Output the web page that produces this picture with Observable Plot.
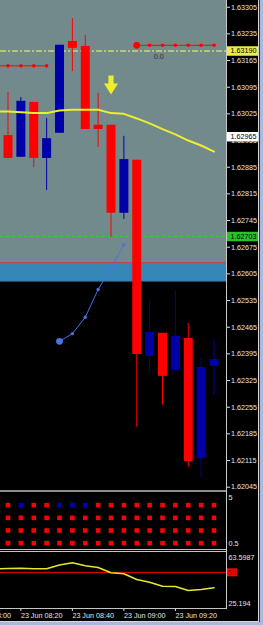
<!DOCTYPE html>
<html>
<head>
<meta charset="utf-8">
<script src="https://cdn.jsdelivr.net/npm/d3@7"></script>
<script src="https://cdn.jsdelivr.net/npm/@observablehq/plot@0.6"></script>
<style>
html,body{margin:0;padding:0;background:#aab8de;}
#wrap{position:relative;width:263px;height:625px;overflow:hidden;background:#aab8de;}
#chart{position:absolute;left:0;top:0;width:258px;height:621px;background:#000;overflow:hidden;}
.ln{position:absolute;}
</style>
</head>
<body>
<div id="wrap">
  <div id="chart"></div>
  <div class="ln" style="left:258px;top:0;width:1px;height:622px;background:#d8d8d8"></div>
  <div class="ln" style="left:259px;top:0;width:1px;height:622px;background:#2c3448"></div>
  <div class="ln" style="left:0;top:621px;width:259px;height:1px;background:#d8d8d8"></div>
</div>
<script>
// ---------- data ----------
const candleIdx = [1,2,3,4,5,6,7,8,9,10,11,12,13,14,15,16,17]; // 5-min bars, 1 = 08:15
const open  = [1.62968,1.62911,1.63055,1.62908,1.62974,1.63215,1.63202,1.62995,1.62995,1.62764,1.62903,1.62388,1.62449,1.62351,1.62435,1.62120,1.62362];
const high  = [1.63081,1.63068,1.63055,1.63013,1.63205,1.63275,1.63231,1.63079,1.62995,1.62966,1.62903,1.62538,1.62449,1.62559,1.62475,1.62383,1.62430];
const low   = [1.62908,1.62911,1.62884,1.62824,1.62974,1.63136,1.62984,1.62937,1.62701,1.62748,1.62202,1.62346,1.62260,1.62351,1.62097,1.62070,1.62286];
const close = [1.62908,1.63058,1.62908,1.62960,1.63205,1.63197,1.62984,1.62984,1.62764,1.62905,1.62393,1.62451,1.62336,1.62441,1.62112,1.62359,1.62380];

const lineIdx = [0,1,2,3,4,5,6,7,8,9,10,11,12,13,14,15,16,17];
const maValues = [1.63031,1.63031,1.63029,1.63027,1.63027,1.63034,1.63036,1.63036,1.63036,1.63027,1.63025,1.63013,1.63000,1.62985,1.62971,1.62955,1.62942,1.62926];

const sigLeftIdx = [0,1,2,3,4];
const sigLeftPrice = 1.63151;
const sigRightIdx = [11,12,13,14,15,16,17];
const sigRightPrice = 1.63205;

const curveIdx = [5,6,7,8,9,10];
const curvePrice = [1.62428,1.62448,1.62491,1.62564,1.62620,1.62681];

const arrowIdx = 9, arrowPrice = 1.63101;
const noteIdx = 12.7, notePrice = 1.63176, noteText = "0.0";

const zoneTop = 1.633226, zoneRed = 1.62634, zoneBlueLow = 1.62585;
const levelYellow = 1.63190, levelGreen = 1.62703, levelWhite = 1.62965;

const priceTicks = [1.63305,1.63235,1.63165,1.63095,1.63025,1.62955,1.62885,1.62815,1.62745,1.62675,1.62605,1.62535,1.62465,1.62395,1.62325,1.62255,1.62185,1.62115,1.62045];
const priceDomain = [1.620363, 1.633226];
const xDomain = [0.417, 17.97];

const sqRows = [4,3,2,1];
const topRowColors = ["r","b","r","r","b","b","b","r","r","r","r","r","r","r","r","r","r"];

const rsiValues = [52.42,52.63,52.83,52.42,52.42,55.03,56.54,54.48,53.31,49.68,48.99,45.08,43.23,40.49,40.28,37.54,38.23,39.39];
const rsiMax = 63.5987, rsiMin = 25.194, rsiLevel = 50;
const sqMax = 5, sqMin = 0.5;

const xTickIdx = [-2,2,6,10,14];
const xTickLabels = ["23 Jun 08:00","23 Jun 08:20","23 Jun 08:40","23 Jun 09:00","23 Jun 09:20"];

// ---------- styles ----------
const RED = "#ff0000", BLUE = "#0000a8";
const css = "background:transparent;color:#e6e6e6;font-family:'Liberation Sans',Arial,sans-serif;font-size:7.2px;";
const W = 258, MR = 32;

const candles = candleIdx.map((i,k)=>({i, o:open[k], h:high[k], l:low[k], c:close[k]}));
const ups = candles.filter(d=>d.c>d.o), downs = candles.filter(d=>d.c<=d.o);
const ma = lineIdx.map((i,k)=>({i, v:maValues[k]}));
const sigL = sigLeftIdx.map(i=>({i, v:sigLeftPrice}));
const sigR = sigRightIdx.map(i=>({i, v:sigRightPrice}));
const curve = curveIdx.map((i,k)=>({i, v:curvePrice[k]}));
const rsi = lineIdx.map((i,k)=>({i, v:rsiValues[k]}));

function boxSymbol(w,h){ return {draw(ctx){ ctx.rect(-w/2,-h/2,w,h); }}; }
const arrowSymbol = {draw(ctx){
  ctx.moveTo(-2.6,-9.5); ctx.lineTo(2.6,-9.5); ctx.lineTo(2.6,-1.5); ctx.lineTo(7,-1.5);
  ctx.lineTo(0,9.5); ctx.lineTo(-7,-1.5); ctx.lineTo(-2.6,-1.5); ctx.closePath();
}};

const priceLabels = [
  {p: levelYellow, bg:"#ecec48", fg:"#000"},
  {p: levelWhite,  bg:"#ffffff", fg:"#000"},
  {p: levelGreen,  bg:"#27c427", fg:"#000"}
];

// ---------- price panel ----------
const price = Plot.plot({
  width: W, height: 490, marginLeft: 0, marginRight: MR, marginTop: 0, marginBottom: 0,
  style: css,
  x: {domain: xDomain, axis: null},
  y: {domain: priceDomain},
  marks: [
    Plot.rect([{a: zoneRed, b: zoneTop}], {y1:"a", y2:"b", fill:"#728a8c"}),
    Plot.rect([{a: zoneBlueLow, b: zoneRed}], {y1:"a", y2:"b", fill:"#3587b8"}),
    Plot.ruleY([zoneBlueLow], {stroke:"#1c4a66"}),
    Plot.ruleY([zoneRed], {stroke:"#ff3a2a"}),
    Plot.ruleY([levelYellow], {stroke:"#d4d46a", strokeWidth:1.5, strokeDasharray:"6,2,2,2"}),
    Plot.ruleY([levelGreen], {stroke:"#38c838", strokeDasharray:"3,3"}),
    Plot.ruleX(ups, {x:"i", y1:"l", y2:"h", stroke:BLUE}),
    Plot.ruleX(downs, {x:"i", y1:"l", y2:"h", stroke:RED}),
    Plot.ruleX(ups, {x:"i", y1:"o", y2:"c", stroke:BLUE, strokeWidth:9}),
    Plot.ruleX(downs, {x:"i", y1:"o", y2:"c", stroke:RED, strokeWidth:9}),
    Plot.line(ma, {x:"i", y:"v", stroke:"#eeee30", strokeWidth:2, clip:true}),
    Plot.line(sigL, {x:"i", y:"v", stroke:RED, strokeWidth:1, clip:true}),
    Plot.dot(sigL, {x:"i", y:"v", fill:RED, r:1.8, clip:true}),
    Plot.line(sigR, {x:"i", y:"v", stroke:RED, strokeWidth:1}),
    Plot.dot(sigR, {x:"i", y:"v", fill:RED, r:1.8}),
    Plot.dot([sigR[0]], {x:"i", y:"v", fill:RED, r:3.4}),
    Plot.text([noteText], {x: noteIdx, y: notePrice, text: d=>d, fill:"#2a3238", fontSize:7.2}),
    Plot.line(curve, {x:"i", y:"v", stroke:"#4a72e0", strokeWidth:1}),
    Plot.dot(curve, {x:"i", y:"v", fill:"#4a72e0", r:1.7}),
    Plot.dot([curve[0]], {x:"i", y:"v", fill:"#4a72e0", r:3.4}),
    Plot.dot([{i:arrowIdx, v:arrowPrice}], {x:"i", y:"v", symbol: arrowSymbol, fill:"#eeee2c", r:5}),
    Plot.axisY(priceTicks, {anchor:"right", tickSize:3, tickPadding:1.5, tickFormat: d=>d.toFixed(5), label:null}),
    Plot.dot(priceLabels, {y:"p", frameAnchor:"right", dx:16, symbol: boxSymbol(31,9.5), fill: d=>d.bg, r:5}),
    Plot.text(priceLabels, {y:"p", frameAnchor:"right", dx:4, textAnchor:"start", text: d=>d.p.toFixed(5), fill:"#000"})
  ]
});

// ---------- squares panel ----------
const squares = [];
sqRows.forEach(row => candleIdx.forEach((i,k) => {
  squares.push({i, row, c: row === 4 ? topRowColors[k] : "r"});
}));
const sqPanel = Plot.plot({
  width: W, height: 57, marginLeft: 0, marginRight: MR, marginTop: 0, marginBottom: 0,
  style: css,
  x: {domain: xDomain, axis: null},
  y: {domain: [sqMin, sqMax]},
  marks: [
    Plot.dot(squares.filter(d=>d.c==="r"), {x:"i", y:"row", symbol:"square", r:2.6, fill:"#ff0000"}),
    Plot.dot(squares.filter(d=>d.c==="b"), {x:"i", y:"row", symbol:"square", r:2.6, fill:"#0000c0"}),
    Plot.axisY([sqMax], {anchor:"right", tickSize:0, tickPadding:2, dy:5, tickFormat: d=>String(d), label:null}),
    Plot.axisY([sqMin], {anchor:"right", tickSize:0, tickPadding:2, dy:-6, tickFormat: d=>String(d), label:null})
  ]
});

// ---------- RSI panel ----------
const rsiPanel = Plot.plot({
  width: W, height: 69, marginLeft: 0, marginRight: MR, marginTop: 0, marginBottom: 13,
  style: css,
  x: {domain: xDomain},
  y: {domain: [rsiMin, rsiMax]},
  marks: [
    Plot.ruleY([rsiLevel], {stroke:"#ff0000"}),
    Plot.line(rsi, {x:"i", y:"v", stroke:"#e6e62a", strokeWidth:1.6, clip:true}),
    Plot.axisY([rsiMax], {anchor:"right", tickSize:0, tickPadding:2, dy:5, tickFormat: d=>String(d), label:null}),
    Plot.axisY([rsiMin], {anchor:"right", tickSize:0, tickPadding:2, dy:-5, tickFormat: d=>String(d), label:null}),
    Plot.dot([rsiLevel], {y: d=>d, frameAnchor:"right", dx:5.5, symbol: boxSymbol(10,8), fill:"#ff0000", r:4}),
    Plot.text([rsiLevel], {y: d=>d, frameAnchor:"right", dx:1.5, textAnchor:"start", text: d=>String(d), fill:"#900000"}),
    Plot.axisX(xTickIdx, {anchor:"bottom", tickSize:3, tickPadding:1, textAnchor:"start",
      tickFormat: d => xTickLabels[xTickIdx.indexOf(d)], label:null})
  ]
});

// ---------- layout ----------
const chart = document.getElementById("chart");
function place(svg, top){ svg.style.position="absolute"; svg.style.left="0px"; svg.style.top=top+"px"; chart.appendChild(svg); }
function line(l,t,w,h,c){ const d=document.createElement("div"); d.className="ln"; Object.assign(d.style,{left:l+"px",top:t+"px",width:w+"px",height:h+"px",background:c}); chart.appendChild(d); }
place(price, 0);
place(sqPanel, 492);
place(rsiPanel, 552);
line(0,490,226,2,"#8c8c8c");
line(0,549,227,1,"#c4c4c4");
line(0,551,227,1,"#c4c4c4");
line(0,608,227,1,"#c4c4c4");
line(226,0,1,609,"#c8c8c8");
</script>
</body>
</html>
